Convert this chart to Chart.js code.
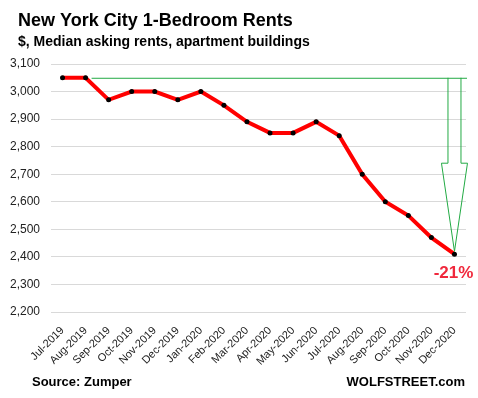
<!DOCTYPE html>
<html>
<head>
<meta charset="utf-8">
<script src="https://cdn.jsdelivr.net/npm/chart.js@4"></script>
<style>
  html, body { margin: 0; padding: 0; background: #fff; }
  #wrap { width: 478px; height: 398px; position: relative; }
</style>
</head>
<body>
<div id="wrap"><canvas id="chart" width="478" height="398"></canvas></div>
<script>
const months = ['Jul-2019', 'Aug-2019', 'Sep-2019', 'Oct-2019', 'Nov-2019', 'Dec-2019',
    'Jan-2020', 'Feb-2020', 'Mar-2020', 'Apr-2020', 'May-2020', 'Jun-2020',
    'Jul-2020', 'Aug-2020', 'Sep-2020', 'Oct-2020', 'Nov-2020', 'Dec-2020'];
const rents = [3050, 3050, 2970, 3000, 3000, 2970, 3000, 2950, 2890, 2850, 2850, 2890,
    2840, 2700, 2600, 2550, 2470, 2410];
const refLevel = 3050;       // Aug-2019 level, green reference line
const headLevel = 2740;      // where the arrow head starts
const tipLevel = 2420;       // arrow tip
const changeLabel = '-21%';

const FONT = '"Liberation Sans", Arial, sans-serif';

const overlay = {
    id: 'overlay',
    afterDatasetsDraw(chart) {
        const { ctx, chartArea, scales: { x, y } } = chart;
        ctx.save();
        // green reference line
        const yRef = y.getPixelForValue(refLevel);
        ctx.strokeStyle = '#22aa44';
        ctx.lineWidth = 1;
        ctx.beginPath();
        ctx.moveTo(x.getPixelForValue(1) + 6, yRef + 0.5);
        ctx.lineTo(chartArea.right + 1, yRef + 0.5);
        ctx.stroke();

        // outline arrow down to the last point
        const xc = x.getPixelForValue(months.length - 1);
        const yHead = y.getPixelForValue(headLevel);
        const yTip = y.getPixelForValue(tipLevel);
        ctx.beginPath();
        ctx.moveTo(xc - 6.5, yRef);
        ctx.lineTo(xc - 6.5, yHead);
        ctx.lineTo(xc - 13, yHead);
        ctx.lineTo(xc, yTip);
        ctx.lineTo(xc + 13, yHead);
        ctx.lineTo(xc + 6.5, yHead);
        ctx.lineTo(xc + 6.5, yRef);
        ctx.stroke();

        // percent label
        ctx.fillStyle = '#f0283c';
        ctx.font = 'bold 17px ' + FONT;
        ctx.textAlign = 'center';
        ctx.textBaseline = 'middle';
        ctx.fillText(changeLabel, xc - 1, y.getPixelForValue(rents[rents.length - 1]) + 19);
        ctx.restore();
    },
    afterDraw(chart) {
        const { ctx } = chart;
        ctx.save();
        ctx.fillStyle = '#000';
        ctx.textBaseline = 'alphabetic';
        ctx.textAlign = 'left';
        ctx.font = 'bold 18px ' + FONT;
        ctx.fillText('New York City 1-Bedroom Rents', 18, 26);
        ctx.font = 'bold 14px ' + FONT;
        ctx.fillText('$, Median asking rents, apartment buildings', 18, 46);
        ctx.font = 'bold 13px ' + FONT;
        ctx.fillText('Source: Zumper', 32, 386);
        ctx.textAlign = 'right';
        ctx.fillText('WOLFSTREET.com', 465, 386);
        ctx.restore();
    }
};

new Chart(document.getElementById('chart'), {
    type: 'line',
    data: {
        labels: months,
        datasets: [{
            data: rents,
            borderColor: '#ff0000',
            borderWidth: 4,
            pointBackgroundColor: '#000',
            pointBorderColor: '#000',
            pointRadius: 2.5,
            pointBorderWidth: 0,
            tension: 0
        }]
    },
    options: {
        responsive: false,
        animation: false,
        layout: { padding: { top: 64, left: 0, right: 12, bottom: 0 } },
        plugins: { legend: { display: false }, tooltip: { enabled: false } },
        scales: {
            x: {
                offset: true,
                grid: { display: false },
                border: { display: false },
                ticks: {
                    autoSkip: false,
                    minRotation: 45, maxRotation: 45, padding: 4,
                    color: '#222', font: { family: FONT, size: 11 }
                },
                afterFit(s) { s.height = 86; }
            },
            y: {
                min: 2200, max: 3100,
                grid: { color: '#d9d9d9', drawTicks: false },
                border: { display: false },
                ticks: {
                    stepSize: 100, padding: 11,
                    color: '#222', font: { family: FONT, size: 12 },
                    callback: v => v.toLocaleString('en-US')
                },
                afterFit(s) { s.width = 51; }
            }
        }
    },
    plugins: [overlay]
});
</script>
</body>
</html>
